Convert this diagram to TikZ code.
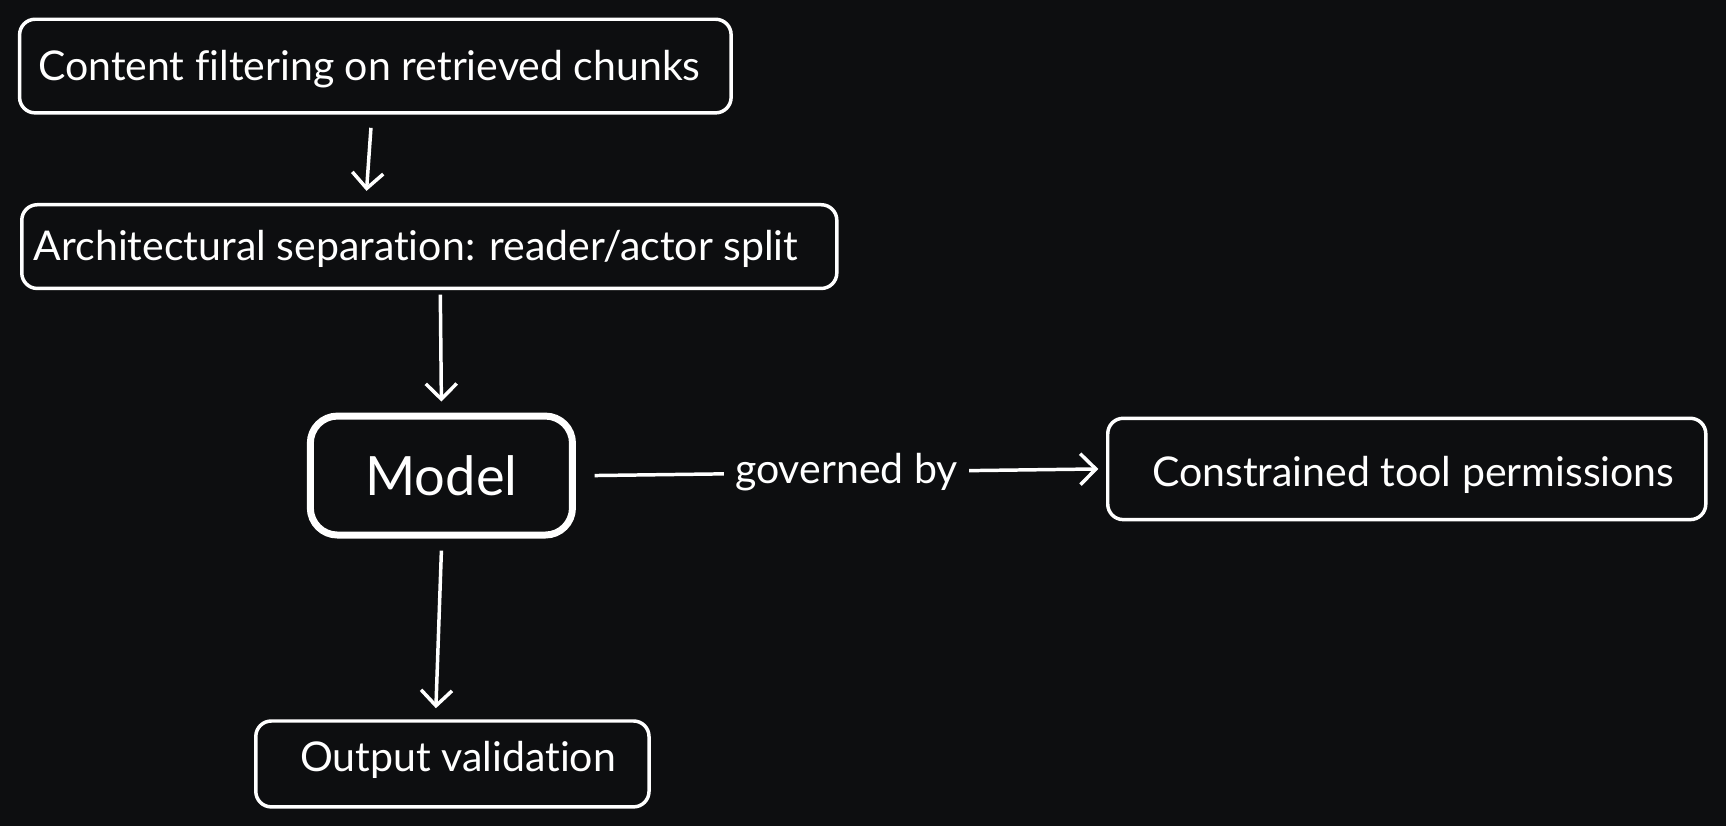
\documentclass[tikz,border=0pt]{standalone}
\usepackage{fontspec}
\setmainfont{Lato}[Ligatures=NoCommon]
\usetikzlibrary{arrows.meta}
\definecolor{bg}{RGB}{13,14,16}
\begin{document}
\begin{tikzpicture}[x=0.01cm,y=-0.01cm,
  box/.style={draw=white,line width=0.9pt,rounded corners=4pt,text=white,font=\fontsize{10.6}{12}\selectfont,inner sep=0pt},
  lbl/.style={text=white,font=\fontsize{10.6}{12}\selectfont,inner sep=0pt,anchor=west},
  arr/.style={draw=white,line width=0.9pt,-{Straight Barb[length=4pt,width=8pt]}}]
\useasboundingbox (0,0) rectangle (1568,750);
\fill[bg] (0,0) rectangle (1568,750);
\node[box,minimum width=6.46cm,minimum height=0.85cm] (a) at (341,60) {};
\node[lbl] (at) at (34,63) {Content filtering on retrieved chunks};
\node[box,minimum width=7.40cm,minimum height=0.76cm] (b) at (390,224) {};
\node[lbl] (bt) at (30,226) {Architectural separation: reader/actor split};
\node[box,line width=1.8pt,rounded corners=7pt,minimum width=2.38cm,minimum height=1.08cm,font=\fontsize{14}{16}\selectfont] (m) at (401,432) {Model};
\node[box,minimum width=5.43cm,minimum height=0.92cm] (c) at (1278,426) {};
\node[lbl] (ct) at (1046,431) {Constrained tool permissions};
\node[box,minimum width=3.57cm,minimum height=0.78cm] (o) at (411,694) {};
\node[lbl] (ot) at (272,690) {Output validation};
\draw[arr] ([xshift=-0.04cm,yshift=-0.12cm]a.south) -- ([xshift=-0.57cm,yshift=0.11cm]b.north);
\draw[arr] ([xshift=0.10cm,yshift=-0.04cm]b.south) -- ([yshift=0.1cm]m.north);
\draw[arr] ([yshift=-0.11cm]m.south) -- ([xshift=-0.15cm,yshift=0.1cm]o.north);
\draw[arr] ([xshift=0.17cm]m.east) -- node[fill=bg,text=white,font=\fontsize{10.6}{12}\selectfont,inner sep=3pt]{governed by} ([xshift=-0.07cm]c.west);
\end{tikzpicture}
\end{document}
